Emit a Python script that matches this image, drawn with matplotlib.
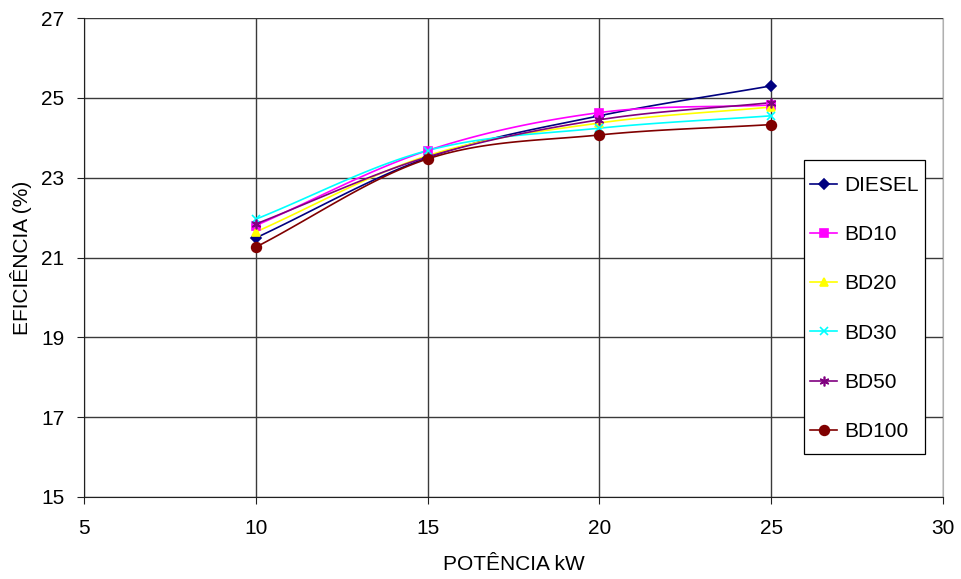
import numpy as np
import matplotlib
matplotlib.use("Agg")
import matplotlib.pyplot as plt
from matplotlib.patches import Rectangle

plt.rcParams['font.family'] = ['Liberation Sans', 'DejaVu Sans']

# %% data
potencia = [10, 15, 20, 25]
series = ["DIESEL", "BD10", "BD20", "BD30", "BD50", "BD100"]
diesel = [21.49, 23.50, 24.55, 25.30]
bd10 = [21.80, 23.68, 24.63, 24.82]
bd20 = [21.64, 23.55, 24.37, 24.77]
bd30 = [21.96, 23.68, 24.24, 24.55]
bd50 = [21.84, 23.52, 24.45, 24.88]
bd100 = [21.26, 23.47, 24.07, 24.33]

valores = [diesel, bd10, bd20, bd30, bd50, bd100]
cores = ["#000080", "#FF00FF", "#FFFF00", "#00FFFF", "#800080", "#800000"]
marcadores = ["D", "s", "^", "x", (6, 2, 0), "o"]
tamanhos = [5, 6, 6, 6, 7, 7]


def smooth(x, y, n=30):
    # Catmull-Rom style smoothing like Excel's "smoothed line"
    x = np.asarray(x, float)
    y = np.asarray(y, float)
    px = np.concatenate([[2 * x[0] - x[1]], x, [2 * x[-1] - x[-2]]])
    py = np.concatenate([[2 * y[0] - y[1]], y, [2 * y[-1] - y[-2]]])
    xs, ys = [], []
    t = np.linspace(0, 1, n)
    for i in range(1, len(px) - 2):
        for arr, out in ((px, xs), (py, ys)):
            p0, p1, p2, p3 = arr[i - 1], arr[i], arr[i + 1], arr[i + 2]
            c = 0.5 * ((2 * p1) + (-p0 + p2) * t + (2 * p0 - 5 * p1 + 4 * p2 - p3) * t ** 2
                       + (-p0 + 3 * p1 - 3 * p2 + p3) * t ** 3)
            out.extend(c)
    return np.array(xs), np.array(ys)


# %% plot
fs = 15
W, H = 962, 579
fig = plt.figure(figsize=(W / 100, H / 100), dpi=100)
ax = fig.add_axes([84 / W, 1 - 497 / H, (943 - 84) / W, (497 - 18) / H])

for nome, v, c, m, s in zip(series, valores, cores, marcadores, tamanhos):
    sx, sy = smooth(potencia, v)
    ax.plot(sx, sy, color=c, lw=1.2, zorder=3)
    ax.plot(potencia, v, color=c, lw=0, marker=m, ms=s, mec=c, mfc=c, mew=1.2, zorder=4)
    ax.plot([], [], color=c, lw=1.2, marker=m, ms=s, mew=1.2, label=nome)

ax.set_xlim(5, 30)
ax.set_ylim(15, 27)
ax.set_xticks([5, 10, 15, 20, 25, 30])
ax.set_yticks([15, 17, 19, 21, 23, 25, 27])
ax.grid(True, color="#3a3a3a", lw=1.0)
ax.set_axisbelow(True)
ax.spines["left"].set_color("#202020")
ax.spines["bottom"].set_color("#202020")
ax.spines["top"].set_visible(False)
ax.spines["right"].set_color("#b0b0b0")
ax.tick_params(labelsize=fs, direction="out", length=5, color="#202020")
ax.tick_params(axis="y", pad=9)
ax.tick_params(axis="x", pad=11)

ax.set_xlabel("POTÊNCIA kW", fontsize=fs, labelpad=12)
ax.set_ylabel("EFICIÊNCIA (%)", fontsize=fs, labelpad=7)

# legend box drawn separately so its padding matches the original
fig.patches.append(Rectangle((804 / W, 1 - 454 / H), (925 - 804) / W, (454 - 160) / H,
                             transform=fig.transFigure, facecolor="white",
                             edgecolor="black", lw=0.9, zorder=5))
leg = ax.legend(loc="upper left", bbox_to_anchor=(810 / W, 1 - 176 / H),
                bbox_transform=fig.transFigure, fontsize=fs, frameon=False,
                labelspacing=1.45, handlelength=1.3, handletextpad=0.35,
                borderpad=0, borderaxespad=0)
leg.set_zorder(6)
leg.remove()
fig.add_artist(leg)

fig.savefig("out.png", dpi=100)
